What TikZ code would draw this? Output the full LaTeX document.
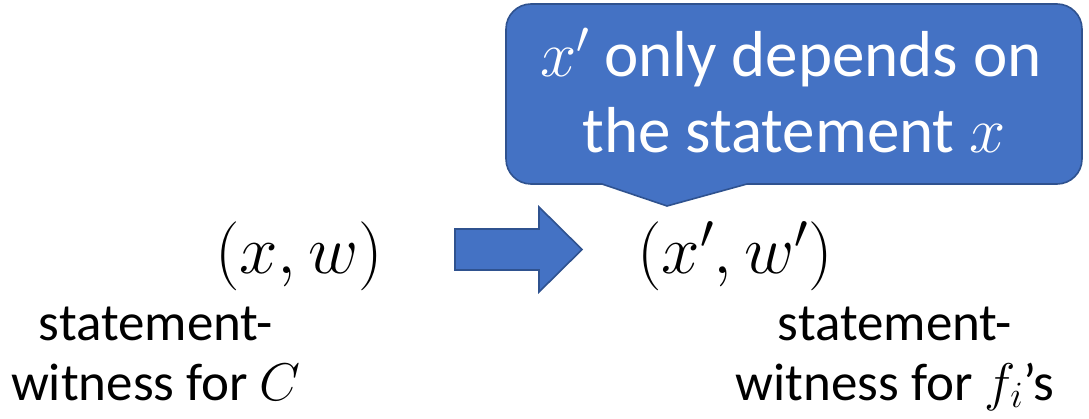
\RequirePackage{fix-cm}
\documentclass[tikz,border=0pt]{standalone}
\usepackage{amsmath}
\usepackage{fontspec}
\setmainfont{Carlito}
\usepackage{tikz}
\usetikzlibrary{positioning}
\definecolor{officeblue}{RGB}{68,114,196}
\definecolor{officeedge}{RGB}{47,82,143}

\begin{document}
\begin{tikzpicture}[x=1pt, y=1pt, every node/.style={inner sep=0pt},
  blockshape/.style={fill=officeblue, draw=officeedge, line width=1.6pt, line join=miter},
  notetext/.style={text=white, font=\fontsize{65}{78}\selectfont},
  pairtext/.style={font=\fontsize{69}{75}\selectfont},
  labeltext/.style={font=\fontsize{53}{60}\selectfont, align=center}]
  \useasboundingbox (0,0) rectangle (1089,418);

  % Callout
  \draw[blockshape] (531,414) -- (1057,414) arc[start angle=90, end angle=0, radius=25]
    -- (1082,259) arc[start angle=0, end angle=-90, radius=25]
    -- (747,234) -- (667,212) -- (602,234) -- (531,234)
    arc[start angle=270, end angle=180, radius=25]
    -- (506,389) arc[start angle=180, end angle=90, radius=25] -- cycle;
  \node[notetext, anchor=base] (note1) at (791,341) {$x'$ only depends on};
  \node[notetext, anchor=base] (note2) at (794,265) {the statement $x$};

  % Pairs
  \node[pairtext] (pairin) at (299,162) {$(x,w)$};
  \node[pairtext] (pairout) at (735,162) {$(x',w')$};

  % Block arrow
  \draw[blockshape] (455,189) -- (539,189) -- (539,211) -- (582,168.5)
    -- (539,126) -- (539,148) -- (455,148) -- cycle;

  % Labels
  \node[labeltext, anchor=base] (labin) at (156,18) {statement-\\witness for $C$};
  \node[labeltext, anchor=base] (labout) at (895,18) {statement-\\witness for $f_i$’s};

\end{tikzpicture}
\end{document}
